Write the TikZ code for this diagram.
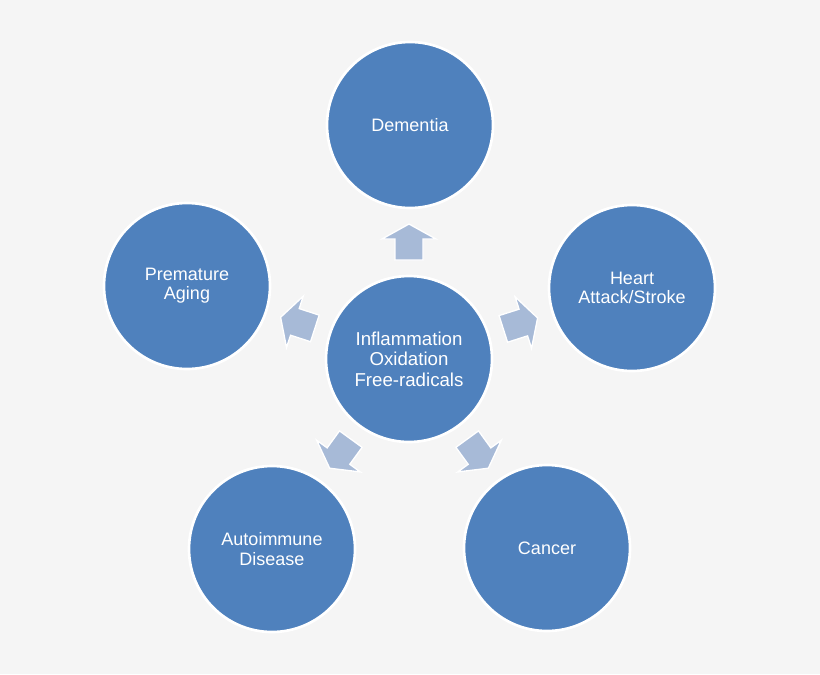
\documentclass[tikz,border=0pt]{standalone}
\usepackage{fontspec}
\setmainfont{Liberation Sans}
\begin{document}
\begin{tikzpicture}[x=0.75pt,y=-0.75pt,
  bub/.style={circle,fill=circfill,draw=white,line width=2pt,minimum size=166*0.75pt,inner sep=0pt,text=white,align=center,font=\fontsize{13.5}{14.5}\selectfont},
  barrow/.style={fill=arrfill,draw=white,line width=1pt}]
\definecolor{circfill}{HTML}{4F81BD}
\definecolor{arrfill}{HTML}{A7BAD7}
\definecolor{bg}{HTML}{F5F5F5}
\fill[bg] (0,0) rectangle (820,674);
\useasboundingbox (0,0) rectangle (820,674);
\node[bub,font=\fontsize{14}{15.5}\selectfont] (c) at (409,359) {Inflammation\\Oxidation\\Free-radicals};
\node[bub] (d) at (410,125) {Dementia};
\node[bub] (h) at (632,288) {Heart\\Attack/Stroke};
\node[bub] (k) at (547,548) {Cancer};
\node[bub] (a) at (272,549) {Autoimmune\\Disease};
\node[bub] (p) at (187,286) {Premature\\Aging};
\foreach \ang in {90,17.7,-54,-126,162}{
  \begin{scope}[shift={(c.center)},x=0.75pt,y=0.75pt,rotate=\ang]
  \begin{scope}[shift={(116,0)}]
  \draw[barrow] (-17,-14) -- (4,-14) -- (4,-27) -- (19,0) -- (4,27) -- (4,14) -- (-17,14) -- cycle;
  \end{scope}
  \end{scope}
}
\end{tikzpicture}
\end{document}
